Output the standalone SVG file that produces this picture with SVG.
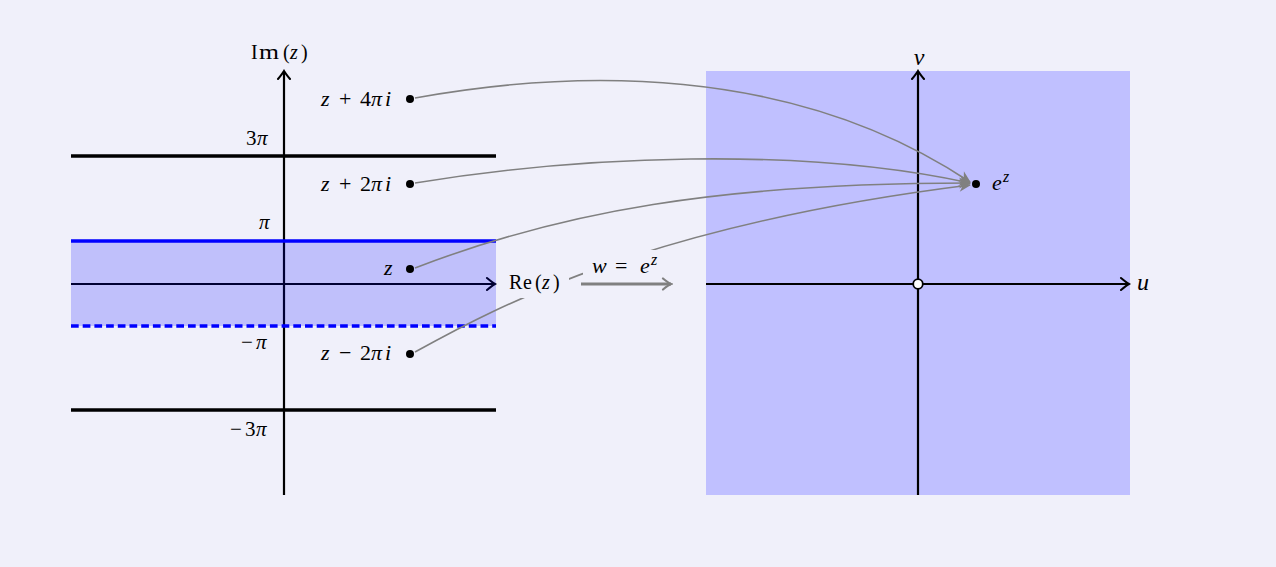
<svg xmlns="http://www.w3.org/2000/svg" width="1276" height="567" viewBox="0 0 1276 567">
<defs>
<style>
.m{font-family:"Liberation Serif","DejaVu Serif",serif;font-style:italic;fill:#000}
.r{font-family:"Liberation Serif","DejaVu Serif",serif;font-style:normal;fill:#000}
.axis{stroke:#000;stroke-width:2.2;fill:none}
.hl{stroke:#000;stroke-width:3.5;fill:none}
.cur{stroke:#808080;stroke-width:1.6;fill:none}
</style>
<marker id="ax" viewBox="-10 -8 12 16" refX="0" refY="0" markerWidth="12" markerHeight="16" markerUnits="userSpaceOnUse" orient="auto">
<path d="M-8,-6 Q-2.4,-1.3 0,0 Q-2.4,1.3 -8,6" fill="none" stroke="#000" stroke-width="2" stroke-linecap="round"/>
</marker>
<marker id="gh" viewBox="-13 -7 14 14" refX="0" refY="0" markerWidth="14" markerHeight="14" markerUnits="userSpaceOnUse" orient="auto">
<path d="M1,0 L-11,-5.5 L-7.5,0 L-11,5.5 Z" fill="#808080"/>
</marker>
<marker id="gt" viewBox="-10 -7 12 14" refX="0" refY="0" markerWidth="12" markerHeight="14" markerUnits="userSpaceOnUse" orient="auto">
<path d="M-8,-5.5 Q-2.5,-1 0,0 Q-2.5,1 -8,5.5" fill="none" stroke="#808080" stroke-width="2.2" stroke-linecap="round"/>
</marker>
</defs>
<rect width="1276" height="567" fill="#f0f0fa"/>

<g id="left-plane">
<line class="hl" x1="71" y1="156" x2="496" y2="156"/>
<line class="hl" x1="71" y1="410" x2="496" y2="410"/>
<line class="axis" x1="284" y1="495" x2="284" y2="71" marker-end="url(#ax)"/>
<line class="axis" x1="71" y1="284" x2="495" y2="284" marker-end="url(#ax)"/>
<rect x="71" y="241" width="425" height="85" fill="#0000ff" fill-opacity="0.2"/>
<line x1="71" y1="241" x2="496" y2="241" stroke="#0000ff" stroke-width="3.5"/>
<line x1="71" y1="326" x2="496" y2="326" stroke="#0000ff" stroke-width="3.5" stroke-dasharray="7.7 4"/>
<text class="r" y="59" font-size="20"><tspan x="251">I</tspan><tspan x="259" textLength="20" lengthAdjust="spacingAndGlyphs">m</tspan><tspan x="283">(</tspan><tspan class="m" x="290">z</tspan><tspan x="301">)</tspan></text>
<text class="r" y="145" font-size="21"><tspan x="246">3</tspan><tspan class="m" x="257">π</tspan></text>
<text class="m" x="259" y="229" font-size="21">π</text>
<text class="r" y="349" font-size="21"><tspan x="241">−</tspan><tspan class="m" x="256">π</tspan></text>
<text class="r" y="436" font-size="21"><tspan x="230">−</tspan><tspan x="245">3</tspan><tspan class="m" x="256">π</tspan></text>
</g>

<g id="right-plane">
<rect x="706" y="71" width="424" height="424" fill="#c0c0ff"/>
<line class="axis" x1="918" y1="495" x2="918" y2="71" marker-end="url(#ax)"/>
<line class="axis" x1="706" y1="284" x2="1129" y2="284" marker-end="url(#ax)"/>
<circle cx="918" cy="284" r="4.8" fill="#fff" stroke="#000" stroke-width="1.8"/>
<text class="m" x="919" y="65" font-size="24" text-anchor="middle">v</text>
<text class="m" x="1137" y="290" font-size="24">u</text>
</g>

<g id="connectors">
<path class="cur" d="M415,98 C570,70 790,62 970,182" marker-end="url(#gh)"/>
<path class="cur" d="M415,183 C580,156 800,146 970,183" marker-end="url(#gh)"/>
<path class="cur" d="M415,268 C560,212 720,183 970,183" marker-end="url(#gh)"/>
<path class="cur" d="M415,352 C500,305 650,225 970,185" marker-end="url(#gh)"/>
</g>

<g id="points">
<circle cx="410" cy="99" r="4"/>
<circle cx="410" cy="184" r="4"/>
<circle cx="410" cy="269" r="4"/>
<circle cx="410" cy="354" r="4"/>
<circle cx="976" cy="184" r="4"/>
<text class="m" y="106" font-size="22"><tspan x="321">z</tspan><tspan class="r" x="339">+</tspan><tspan class="r" x="360">4</tspan><tspan x="371">π</tspan><tspan x="385">i</tspan></text>
<text class="m" y="191" font-size="22"><tspan x="321">z</tspan><tspan class="r" x="339">+</tspan><tspan class="r" x="360">2</tspan><tspan x="371">π</tspan><tspan x="385">i</tspan></text>
<text class="m" x="384" y="275" font-size="22">z</text>
<text class="m" y="360" font-size="22"><tspan x="321">z</tspan><tspan class="r" x="339">−</tspan><tspan class="r" x="360">2</tspan><tspan x="371">π</tspan><tspan x="385">i</tspan></text>
<text class="m" y="190" font-size="22"><tspan x="992">e</tspan><tspan x="1003" y="182" font-size="16">z</tspan></text>
</g>

<g id="re-label">
<rect x="503" y="267" width="66" height="31" fill="#f0f0fa"/>
<text class="r" y="289" font-size="20"><tspan x="509">R</tspan><tspan x="523">e</tspan><tspan x="535">(</tspan><tspan class="m" x="542">z</tspan><tspan x="553">)</tspan></text>
</g>

<g id="map-arrow">
<rect x="583" y="250" width="86" height="29" fill="#f0f0fa"/>
<line x1="581" y1="284" x2="671" y2="284" stroke="#808080" stroke-width="3" marker-end="url(#gt)"/>
<text class="m" y="273" font-size="22"><tspan x="592">w</tspan><tspan class="r" x="615">=</tspan><tspan x="640">e</tspan><tspan x="651" y="265" font-size="16">z</tspan></text>
</g>
</svg>
